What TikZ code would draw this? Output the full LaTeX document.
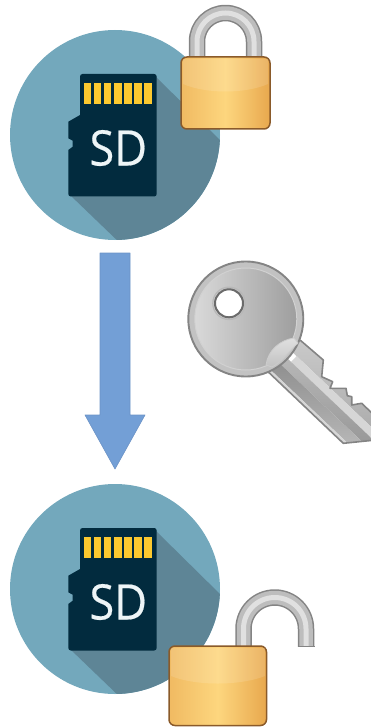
\documentclass[tikz,border=0pt]{standalone}
\usepackage{fontspec}
\setsansfont[FakeBold=0.35]{Open Sans}
\begin{document}
\begin{tikzpicture}[x=1pt,y=-1pt,line join=round]
\useasboundingbox (0,0) rectangle (371,727);
\definecolor{disc}{HTML}{73A8BC}
\definecolor{discdark}{HTML}{5E8596}
\definecolor{card}{HTML}{022B3E}
\definecolor{contact}{HTML}{FCC92F}
\definecolor{flow}{HTML}{739FD6}
\definecolor{flowedge}{HTML}{6C93C6}
\definecolor{brass}{HTML}{F0BA62}
\definecolor{brassdark}{HTML}{E8A84E}
\definecolor{brasslight}{HTML}{FDD67E}
\definecolor{brassedge}{HTML}{8A5A2A}
\definecolor{steel}{HTML}{848484}
\tikzset{
  sdlabel/.style={text=white!88!disc,font=\sffamily\fontsize{49}{49}\selectfont,inner sep=0pt},
  lockbody/.style={draw=brassedge,line width=1.5pt,rounded corners=6pt,left color=brass,right color=brassdark,middle color=brasslight},
  shackleout/.style={draw=steel,line width=16.5pt,line cap=butt},
  shacklemid/.style={draw=black!26,line width=13.5pt,line cap=butt},
  shacklein/.style={draw=black!12,line width=5pt,line cap=butt},
  keyline/.style={draw=steel,line width=1.6pt}}
% disc with card, #1 = y offset, #2 = node name
\newcommand{\sdcard}[2]{%
  \begin{scope}[yshift=-#1pt]
    \fill[disc] (115,135) circle (105);
    \begin{scope}
      \clip (115,135) circle (105);
      \fill[discdark] (155,76) -- (225,145) -- (225,245) -- (122,245) -- (70,195) -- cycle;
    \end{scope}
    \fill[card,rounded corners=2.5pt] (120,74) -- (156.7,74) -- (156.7,196.5) -- (68.3,196.5) [sharp corners] -- (68.3,150)
      -- (72.7,146.7) -- (72.7,140.7) -- (68.3,138.3) -- (68.3,121.7) -- (80,115) [rounded corners=2.5pt] -- (80,74) -- cycle;
    \foreach \i in {0,...,6}
      \fill[contact] (84+10.04*\i,83.3) rectangle +(7.4,21);
    \node[sdlabel] (#2) at (118.3,148) {\scalebox{.92}[1]{SD}};
  \end{scope}}
% ---------- cards ----------
\sdcard{0}{sdtop}
\sdcard{454}{sdbottom}
% ---------- arrow ----------
\draw[fill=flow,draw=flowedge,line width=0.6pt] (100,253) -- (130,253) -- (130,415) -- (145,415)
  -- (115,469) -- (85,415) -- (100,415) -- cycle;
% ---------- closed lock ----------
\foreach \s in {shackleout,shacklemid,shacklein}
  \draw[\s] (197,60) -- (197,41.5) arc (180:360:28.5) -- (254,60);
\draw[lockbody] (181,57) rectangle (270,129);
\fill[white,fill opacity=0.13] (183,59) -- (268,59) -- (268,84) .. controls (245,94) and (206,94) .. (183,84) -- cycle;
% ---------- open lock ----------
\foreach \s in {shackleout,shacklemid,shacklein}
  \draw[\s] (243.5,650) -- (243.5,628.75) arc (180:360:31.25) -- (306,646.5);
\draw[steel,line width=1pt] (297.5,646.5) -- (314.5,646.5);
\draw[lockbody] (169,646) rectangle (266.5,725.5);
\fill[white,fill opacity=0.13] (171,648) -- (265,648) -- (265,676) .. controls (240,686) and (195,686) .. (171,676) -- cycle;
% ---------- key ----------
\begin{scope}
  \clip (0,0) rectangle (371,727);
  \begin{scope}
    \clip (300,340) -- (323.3,360) -- (321.7,376.7) -- (332.7,381.7) -- (330,388.3) -- (346,388.3)
      -- (347.3,395.7) -- (351.7,396.7) -- (351.7,405) -- (361.7,403.3) -- (376,417) -- (376,440)
      -- (343.3,443.3) -- (268,371.7) -- cycle;
    \begin{scope}[shift={(268,371.7)},rotate=-43.5]
      \shade[top color=black!20,bottom color=black!36] (-10,-46) rectangle (160,-31);
      \fill[black!16] (10,-31) rectangle (160,-23);
      \shade[top color=black!28,bottom color=black!44] (0,-23) rectangle (160,-14);
      \shade[top color=black!44,bottom color=black!22] (0,-14) rectangle (160,-3);
      \fill[black!16] (0,-3) rectangle (160,1);
    \end{scope}
  \end{scope}
  \draw[keyline] (300,340) -- (323.3,360) -- (321.7,376.7) -- (332.7,381.7) -- (330,388.3) -- (346,388.3)
    -- (347.3,395.7) -- (351.7,396.7) -- (351.7,405) -- (361.7,403.3) -- (376,417) -- (376,440)
    -- (343.3,443.3) -- (268,371.7);
\end{scope}
\fill[black!24] (245.8,319) circle (57.5);
\draw[keyline,line width=1.9pt] (245.8,319) circle (57.5);
\draw[white!82!black,line width=1pt,left color=black!15,right color=black!38] (245.8,319) circle (51);
\draw[white!80!black,line width=0.8pt,top color=black!12,bottom color=black!24] (266,365) .. controls (268,350) and (280,340) .. (294,338)
  -- (298,343) .. controls (290,350) and (282,362) .. (272,367) -- cycle;
\fill[white,draw=black!58,line width=2pt] (229,303.3) circle (14);
\draw[black!28,line width=1.2pt] (229,303.3) circle (16.2);
\end{tikzpicture}
\end{document}
